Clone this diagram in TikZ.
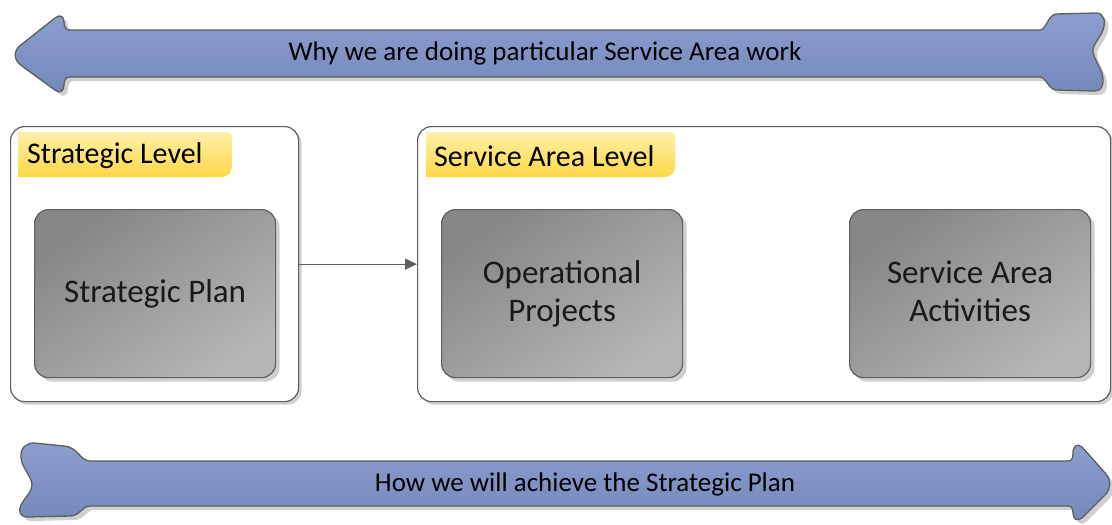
\documentclass[tikz,border=0pt]{standalone}
\usepackage{fontspec}
\setmainfont{Carlito}
\usetikzlibrary{shadows,arrows.meta}
\definecolor{bordercol}{HTML}{5E5E5E}
\definecolor{arrowtop}{HTML}{8C9ECF}
\definecolor{arrowbot}{HTML}{7588BA}
\definecolor{shadowcol}{HTML}{CFCFCF}
\definecolor{yeltop}{HTML}{FFF0A8}
\definecolor{yelbot}{HTML}{FCD845}
\definecolor{boxtop}{HTML}{868686}
\definecolor{boxbot}{HTML}{B5B5B5}
\begin{document}
\begin{tikzpicture}[x=1pt,y=-1pt,
  toparrow/.style={insert path={
    (70,30) -- (1040,30)
    .. controls (1046,30) and (1048,15) .. (1056,14) -- (1096,13)
    .. controls (1104,13) and (1106,21) .. (1103,30)
    .. controls (1100,38) and (1092,45) .. (1093,52)
    .. controls (1094,60) and (1103,70) .. (1103,80)
    .. controls (1103,88) and (1100,91) .. (1094,91) -- (1056,90)
    .. controls (1048,89) and (1046,77) .. (1040,77)
    -- (70,77) .. controls (66,77) and (64,80) .. (64,85)
    .. controls (64,91) and (60,94) .. (55,90) -- (22,66)
    .. controls (13,60) and (13,50) .. (22,44) -- (55,18)
    .. controls (60,14) and (64,16) .. (64,22)
    .. controls (64,27) and (66,30) .. (70,30) -- cycle}},
  botarrow/.style={insert path={
    (90,461) -- (1068,461) .. controls (1072,461) and (1073,458) .. (1073,453)
    .. controls (1073,446) and (1077,443) .. (1082,447) -- (1106,474)
    .. controls (1111,480) and (1111,488) .. (1106,494) -- (1082,518)
    .. controls (1077,522) and (1073,519) .. (1073,513)
    .. controls (1073,509) and (1072,506) .. (1068,506) -- (90,506)
    .. controls (82,506) and (80,516) .. (70,516) -- (28,517)
    .. controls (20,517) and (18,512) .. (21,505)
    .. controls (25,497) and (32,492) .. (32,485)
    .. controls (32,477) and (22,468) .. (21,458)
    .. controls (20,448) and (26,443) .. (34,443) -- (64,446)
    .. controls (78,447) and (80,461) .. (90,461) -- cycle}},
  bigarrow/.style={draw=bordercol, line width=1.3pt, top color=arrowtop, bottom color=arrowbot},
  arrowshadow/.style={fill=shadowcol, shift={(4,4)}},
  container/.style={draw=bordercol, line width=1.2pt, fill=white, rounded corners=14pt,
    minimum width=#1, minimum height=275pt, anchor=north west, inner sep=0pt,
    drop shadow={shadow xshift=3pt, shadow yshift=-3pt, fill=shadowcol, opacity=1}},
  graybox/.style={draw=bordercol, line width=1.2pt, rounded corners=14pt,
    top color=boxtop, bottom color=boxbot, shading angle=35,
    minimum width=241pt, minimum height=168pt, anchor=north west,
    align=center, font=\fontsize{33}{38}\selectfont, text=black!90,
    drop shadow={shadow xshift=4pt, shadow yshift=-4pt, fill=shadowcol, opacity=1}},
  yellab/.style={top color=yeltop, bottom color=yelbot},
  labtext/.style={anchor=west, inner sep=0pt, font=\fontsize{30}{34}\selectfont},
  arrtext/.style={inner sep=0pt, font=\fontsize{27}{32}\selectfont},
  conn/.style={draw=bordercol, line width=1.2pt, -{Triangle[length=12pt,width=11pt]}}
]
\useasboundingbox (0,0) rectangle (1112,525);

% big arrows
\path[arrowshadow, toparrow];
\path[bigarrow, toparrow];
\path[arrowshadow, botarrow];
\path[bigarrow, botarrow];
\node[arrtext] (why) at (545,53) {Why we are doing particular Service Area work};
\node[arrtext] (how) at (585,484) {How we will achieve the Strategic Plan};

% containers
\node[container=288pt] (lev1) at (10,126) {};
\node[container=693pt] (lev2) at (417,126) {};

% yellow labels
\path[yellab] (18,132) -- (226,132) .. controls (230,132) and (232,134) .. (232,138)
  -- (232,166) .. controls (232,173) and (228,177) .. (220,177) -- (18,177) -- cycle;
\node[labtext] (lab1) at (27,156) {Strategic Level};
\path[yellab] (426,132) -- (669,132) .. controls (673,132) and (675,134) .. (675,138)
  -- (675,166) .. controls (675,173) and (671,177) .. (663,177) -- (426,177) -- cycle;
\node[labtext] (lab2) at (434,156) {Service Area Level};

% gray boxes
\node[graybox] (plan) at (34,209) {Strategic Plan};
\node[graybox] (ops) at (441,209) {Operational\\Projects};
\node[graybox] (act) at (849,209) {Service Area\\Activities\vphantom{j}};

% connector
\draw[conn] (lev1.east) -- (lev2.west);
\end{tikzpicture}
\end{document}
